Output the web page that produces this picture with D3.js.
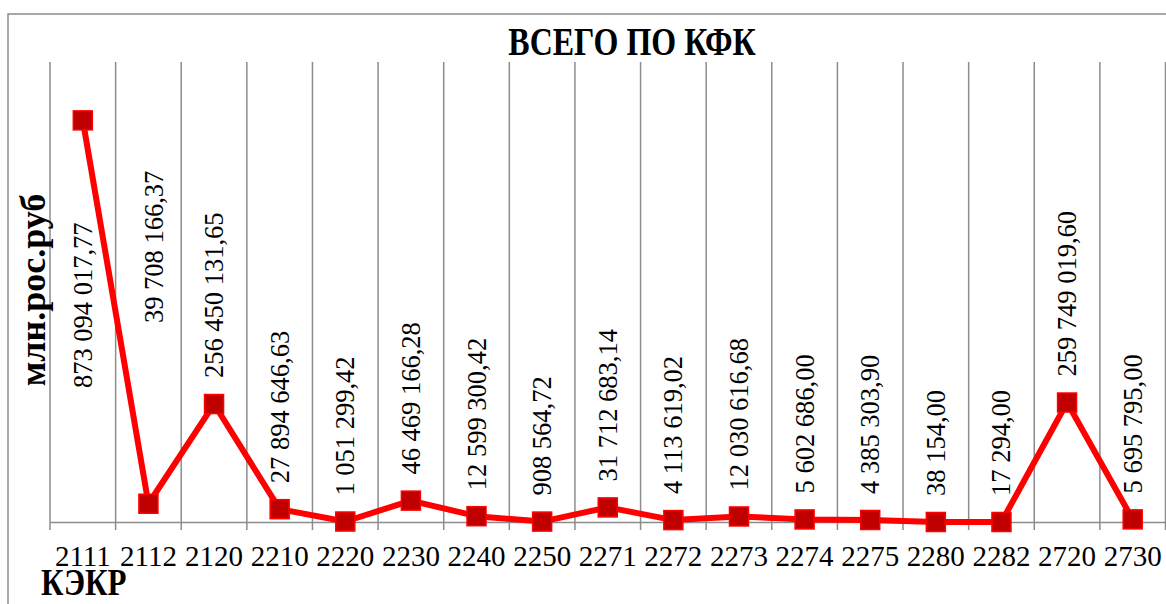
<!DOCTYPE html>
<html>
<head>
<meta charset="utf-8">
<script src="https://cdn.jsdelivr.net/npm/d3@7"></script>
<style>
  body { margin: 0; background: #fff; }
</style>
</head>
<body>
<script>
// Данные графика
const categories = ['2111', '2112', '2120', '2210', '2220', '2230', '2240', '2250', '2271',
  '2272', '2273', '2274', '2275', '2280', '2282', '2720', '2730'];
const values = [873094017.77, 39708166.37, 256450131.65, 27894646.63, 1051299.42, 46469166.28,
  12599300.42, 908564.72, 31712683.14, 4113619.02, 12030616.68, 5602686.00, 4385303.90,
  38154.00, 17294.00, 259749019.60, 5695795.00];
const yDomain = [0, 1000000000];
const titleText = 'ВСЕГО ПО КФК';
const yTitle = 'млн.рос.руб';
const xTitle = 'КЭКР';

const W = 1166, H = 604;
const plot = { left: 50, right: 1165.5, top: 62, bottom: 522 };
const serif = '"Liberation Serif"';

const svg = d3.select('body').append('svg')
  .attr('width', W)
  .attr('height', H);

// рамка области диаграммы
svg.append('rect')
  .attr('x', 8).attr('y', 14)
  .attr('width', W).attr('height', H)
  .attr('fill', 'none')
  .attr('stroke', '#8c8c8c')
  .attr('stroke-width', 1.5);

const x = d3.scaleBand().domain(categories).range([plot.left, plot.right]);
const y = d3.scaleLinear().domain(yDomain).range([plot.bottom, plot.top]);

// вертикальные линии сетки по границам категорий
const bounds = categories.map(c => x(c)).concat([x.range()[1]]);
svg.append('g').selectAll('line')
  .data(bounds)
  .enter().append('line')
  .attr('x1', d => d).attr('x2', d => d)
  .attr('y1', plot.top).attr('y2', plot.bottom + 8)
  .attr('stroke', '#8c8c8c')
  .attr('stroke-width', 1.5);

// ось X
const xAxis = svg.append('g')
  .attr('transform', `translate(0,${plot.bottom})`)
  .call(d3.axisBottom(x).tickSize(0).tickPadding(0));
xAxis.select('.domain').attr('stroke', '#8c8c8c').attr('stroke-width', 1.5);
xAxis.selectAll('text')
  .attr('fill', '#000')
  .attr('dy', 0)
  .attr('y', 44)
  .style('font-size', '29px')
  .style('font-family', serif);

// заголовок
svg.append('text')
  .attr('transform', 'translate(632,55) scale(0.82,1)')
  .attr('text-anchor', 'middle')
  .style('font-family', serif)
  .style('font-size', '39px')
  .style('font-weight', 'bold')
  .text(titleText);

// подпись оси Y
svg.append('text')
  .attr('transform', 'translate(45,290) rotate(-90)')
  .attr('text-anchor', 'middle')
  .style('font-family', serif)
  .style('font-size', '36px')
  .style('font-weight', 'bold')
  .text(yTitle);

// подпись оси X
svg.append('text')
  .attr('transform', 'translate(41,595) scale(0.84,1)')
  .style('font-family', serif)
  .style('font-size', '37px')
  .style('font-weight', 'bold')
  .text(xTitle);

// линия
const cx = c => x(c) + x.bandwidth() / 2;
const line = d3.line()
  .x((d, i) => cx(categories[i]))
  .y(d => y(d));

svg.append('path')
  .datum(values)
  .attr('fill', 'none')
  .attr('stroke', '#ff0000')
  .attr('stroke-width', 6)
  .attr('stroke-linejoin', 'round')
  .attr('d', line);

// маркеры
const ms = 19;
svg.append('g').selectAll('rect')
  .data(values)
  .enter().append('rect')
  .attr('x', (d, i) => cx(categories[i]) - ms / 2)
  .attr('y', d => y(d) - ms / 2)
  .attr('width', ms).attr('height', ms)
  .attr('fill', '#c00000')
  .attr('stroke', '#ff0000')
  .attr('stroke-width', 1.5);

// подписи значений
const ru = d3.formatLocale({ decimal: ',', thousands: ' ', grouping: [3], currency: ['', ''] });
const fmt = ru.format(',.2f');
// подписи, сдвинутые вручную (как в исходной диаграмме)
const manualLabel = { '2111': { dx: 0, y: 388 }, '2112': { dx: 6, y: 323 } };

svg.append('g').selectAll('text')
  .data(values)
  .enter().append('text')
  .attr('transform', (d, i) => {
    const c = categories[i];
    const m = manualLabel[c];
    const px = cx(c) + 9 + (m ? m.dx : 0);
    const py = m ? m.y : y(d) - 26;
    return `translate(${px},${py}) rotate(-90)`;
  })
  .style('font-family', serif)
  .style('font-size', '26.5px')
  .text(d => fmt(d));
</script>
</body>
</html>
